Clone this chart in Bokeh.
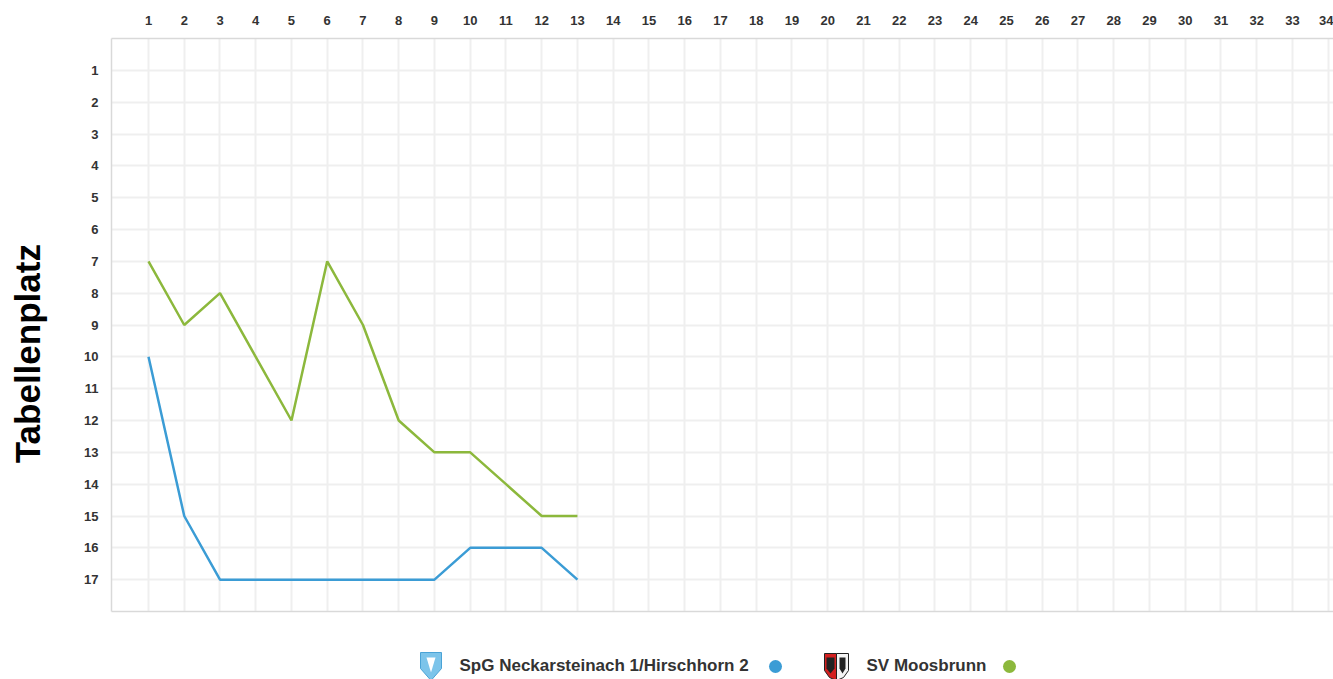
from bokeh.plotting import figure
from bokeh.layouts import column, row
from bokeh.models import Range1d, LinearAxis, FixedTicker
from bokeh.core.properties import value
from bokeh.embed import file_html
from bokeh.resources import INLINE

# ---- data ----
matchdays = list(range(1, 14))
spg_places = [10, 15, 17, 17, 17, 17, 17, 17, 17, 16, 16, 16, 17]
svm_places = [7, 9, 8, 10, 12, 7, 9, 12, 13, 13, 14, 15, 15]
x_ticks = list(range(1, 35))
y_ticks = list(range(1, 18))
team_names = ["SpG Neckarsteinach 1/Hirschhorn 2", "SV Moosbrunn"]
team_colors = ["#3b9cd5", "#8cb83c"]
y_title = "Tabellenplatz"

PAGE_W, PAGE_H = 1333, 679
TITLE_W = 52
MAIN_H = 620
LEG_H = PAGE_H - MAIN_H

LABEL_FONT = "Liberation Sans"
TEXT_COL = "#333333"
AXIS_COL = "#d9d9d9"

# ---------- y title strip ----------
tf = figure(width=TITLE_W, height=MAIN_H, output_backend="svg", toolbar_location=None,
            x_range=Range1d(0, TITLE_W), y_range=Range1d(MAIN_H, 0),
            min_border=0, min_border_left=0, min_border_right=0,
            min_border_top=0, min_border_bottom=0)
tf.axis.visible = False
tf.grid.visible = False
tf.outline_line_color = None
tf.text(x=[27], y=[341], text=[y_title], angle=90, angle_units="deg",
        text_align="center", text_baseline="alphabetic",
        text_font=value(LABEL_FONT), text_font_style="bold",
        text_font_size="35px", text_color="black")

# ---------- main chart ----------
ML, MT, MB = 111 - TITLE_W, 38, MAIN_H - 611
p = figure(width=PAGE_W - TITLE_W, height=MAIN_H, output_backend="svg",
           toolbar_location=None,
           x_range=Range1d(-0.035, 34.15), y_range=Range1d(18, 0),
           x_axis_location="above",
           min_border_left=ML, min_border_top=MT, min_border_right=0,
           min_border_bottom=MB)
p.outline_line_color = None

xa = p.xaxis[0]
xa.ticker = FixedTicker(ticks=x_ticks)
ya = p.yaxis[0]
ya.ticker = FixedTicker(ticks=y_ticks)
for ax in (xa, ya):
    ax.major_label_text_font = LABEL_FONT
    ax.major_label_text_font_style = "bold"
    ax.major_label_text_font_size = "13px"
    ax.major_label_text_color = TEXT_COL
    ax.major_tick_out = 0
    ax.major_tick_in = 0
    ax.minor_tick_out = 0
    ax.minor_tick_in = 0
    ax.axis_line_color = AXIS_COL
    ax.axis_line_width = 1.5
xa.major_label_standoff = 14
ya.major_label_standoff = 13

bx = LinearAxis(ticker=FixedTicker(ticks=[]), major_label_text_font_size="0px",
                major_tick_out=0, minor_tick_out=0, axis_line_color=AXIS_COL,
                axis_line_width=1.5)
p.add_layout(bx, "below")

p.xgrid.ticker = FixedTicker(ticks=x_ticks)
p.ygrid.ticker = FixedTicker(ticks=y_ticks)
p.xgrid.grid_line_color = "#efefef"
p.ygrid.grid_line_color = "#efefef"
p.xgrid.grid_line_width = 2
p.ygrid.grid_line_width = 2

p.line(matchdays, spg_places, line_color=team_colors[0], line_width=2.5)
p.line(matchdays, svm_places, line_color=team_colors[1], line_width=2.5)

# ---------- legend strip ----------
lf = figure(width=PAGE_W, height=LEG_H, output_backend="svg", toolbar_location=None,
            x_range=Range1d(0, PAGE_W), y_range=Range1d(PAGE_H, MAIN_H),
            min_border=0, min_border_left=0, min_border_right=0,
            min_border_top=0, min_border_bottom=0)
lf.axis.visible = False
lf.grid.visible = False
lf.outline_line_color = None

LY = 666
legend_text_x = [459, 866]
legend_dot_x = [775, 1009]
lf.text(x=legend_text_x, y=[LY - 1, LY - 1], text=team_names, text_align="left",
        text_baseline="middle", text_font=value(LABEL_FONT),
        text_font_style="bold", text_font_size="17px", text_color=TEXT_COL)
lf.scatter(x=legend_dot_x, y=[LY, LY], size=13, fill_color=team_colors,
           line_color=None)

# crest icons (simplified)
lf.patch([420, 441, 441, 430.5, 420], [652, 652, 668, 680, 668],
         fill_color="#7cc4ea", line_color="#4aa3d6", line_width=1)
lf.patch([426, 435, 430.5], [657, 657, 672], fill_color="white", line_color=None)
lf.patch([824, 836, 836, 829, 824], [653, 653, 680, 677, 670],
         fill_color="#d42020", line_color="#222222", line_width=1)
lf.patch([836, 848, 848, 843, 836], [653, 653, 670, 677, 680],
         fill_color="#f4f4f4", line_color="#222222", line_width=1)
lf.patch([839, 845, 845, 842, 839], [657, 657, 668, 673, 668],
         fill_color="#222222", line_color=None)
lf.patch([826, 834, 834, 830, 826], [657, 657, 668, 673, 668],
         fill_color="#222222", line_color=None)

layout = column(row(tf, p, spacing=0), lf, spacing=0)
open("out.html", "w").write(file_html(layout, INLINE))
